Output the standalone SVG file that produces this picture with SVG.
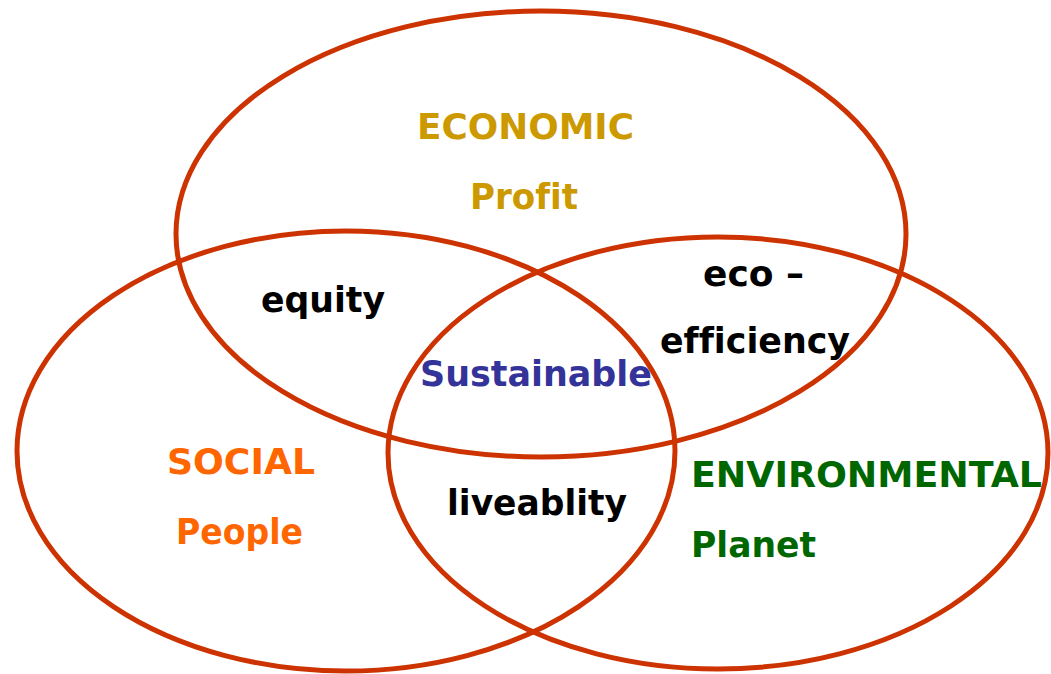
<svg xmlns="http://www.w3.org/2000/svg" width="1051" height="674" viewBox="0 0 1051 674">
<style>
.c{fill:none;stroke:#CC3300;stroke-width:5}
text{font-family:"DejaVu Sans","Liberation Sans",sans-serif;font-weight:bold;font-size:35px;font-variant-ligatures:none}
.eco{fill:#CC9900}.soc{fill:#FF6600}.env{fill:#006600}.sus{fill:#333399}.blk{fill:#000}
</style>
<rect width="1051" height="674" fill="#fff"/>
<g id="circles">
<ellipse id="economic" class="c" cx="541" cy="234" rx="365" ry="223"/>
<ellipse id="social" class="c" cx="346" cy="451" rx="329" ry="220"/>
<ellipse id="environmental" class="c" cx="718" cy="453" rx="330" ry="216"/>
</g>
<g id="labels">
<text class="eco" x="417" y="139" textLength="217" lengthAdjust="spacingAndGlyphs">ECONOMIC</text>
<text class="eco" x="470" y="209" textLength="108" lengthAdjust="spacingAndGlyphs">Profit</text>
<text class="blk" x="261" y="312" textLength="124" lengthAdjust="spacingAndGlyphs">equity</text>
<text class="blk" x="703" y="286" textLength="101" lengthAdjust="spacingAndGlyphs">eco –</text>
<text class="blk" x="660" y="353" textLength="190" lengthAdjust="spacingAndGlyphs">efficiency</text>
<text class="sus" x="420" y="386" textLength="232" lengthAdjust="spacingAndGlyphs">Sustainable</text>
<text class="soc" x="167" y="474" textLength="148" lengthAdjust="spacingAndGlyphs">SOCIAL</text>
<text class="soc" x="176" y="544" textLength="127" lengthAdjust="spacingAndGlyphs">People</text>
<text class="blk" x="447" y="515" textLength="180" lengthAdjust="spacingAndGlyphs">liveablity</text>
<text class="env" x="691" y="487" textLength="351" lengthAdjust="spacingAndGlyphs">ENVIRONMENTAL</text>
<text class="env" x="691" y="557" textLength="125" lengthAdjust="spacingAndGlyphs">Planet</text>
</g>
</svg>
